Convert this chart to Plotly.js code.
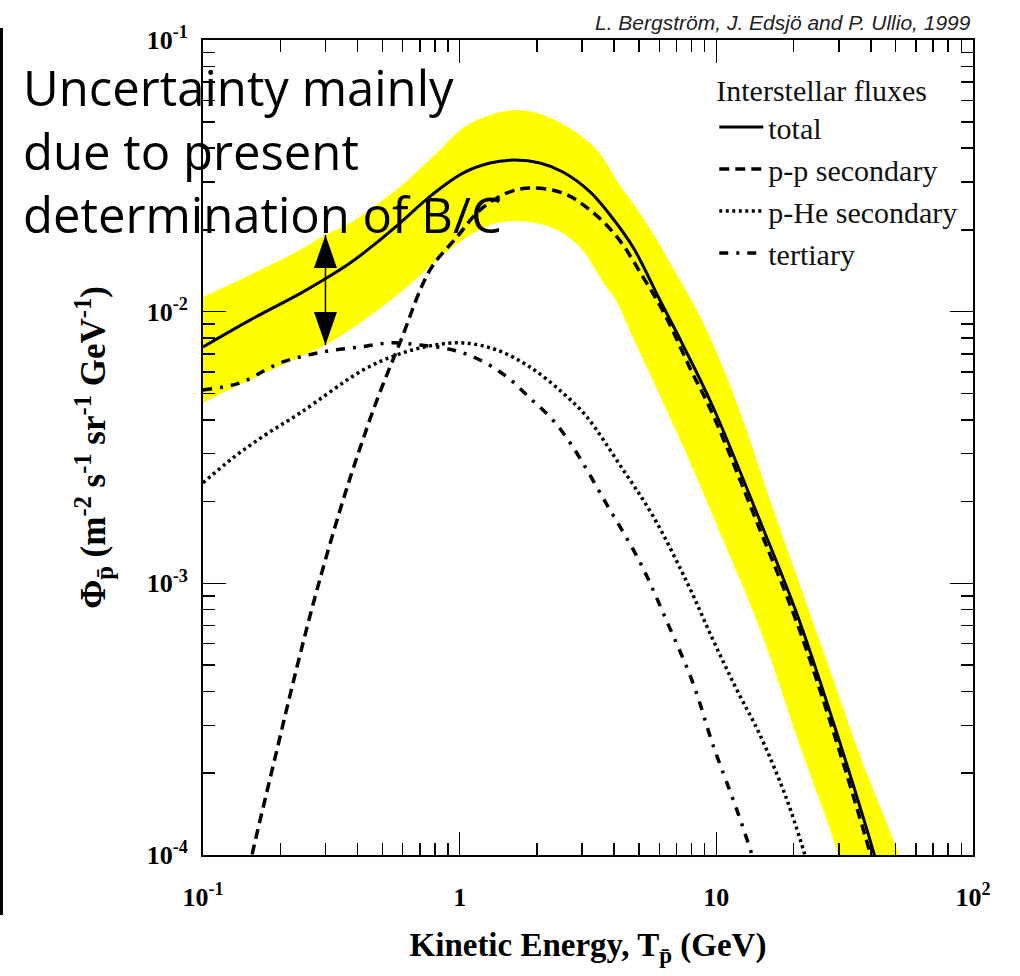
<!DOCTYPE html>
<html>
<head>
<meta charset="utf-8">
<script src="https://cdn.plot.ly/plotly-3.0.1.min.js"></script>
<style>
  html, body { margin: 0; padding: 0; background: #ffffff; }
  #chart { width: 1020px; height: 976px; }
</style>
</head>
<body>
<div id="chart"></div>
<script>
// Interstellar antiproton flux components (Bergström, Edsjö & Ullio 1999)
// Kinetic energy T in GeV, flux in m^-2 s^-1 sr^-1 GeV^-1

const totalT = [0.100, 0.1524, 0.2388, 0.2985, 0.3741, 0.4898, 0.5848, 0.7798, 1.030, 1.312, 1.641, 2.056,
  2.523, 3.221, 3.855, 4.732, 6.026, 7.413, 9.705, 14.79, 20.61, 28.44, 40.74, 43.35];
const totalFlux = [7.413e-3, 9.31e-3, 1.165e-2, 1.318e-2, 1.510e-2, 1.837e-2, 2.118e-2, 2.692e-2, 3.236e-2, 3.524e-2,
  3.614e-2, 3.524e-2, 3.266e-2, 2.761e-2, 2.270e-2, 1.730e-2, 1.104e-2, 7.534e-3, 4.457e-3, 1.698e-3, 7.709e-4,
  3.119e-4, 1.045e-4, 8.45e-5];

const ppT = [0.1510, 0.1552, 0.1941, 0.2323, 0.2780, 0.3420, 0.3981, 0.4764, 0.5848, 0.7656, 0.9761, 1.199, 1.528,
  1.879, 2.523, 3.221, 4.102, 5.176, 6.310, 7.889, 9.705, 14.79, 20.61, 28.44, 39.63, 41.88];
const ppFlux = [8.81e-5, 1.000e-4, 2.438e-4, 4.920e-4, 9.462e-4, 1.862e-3, 2.917e-3, 4.732e-3, 7.674e-3, 1.422e-2,
  1.884e-2, 2.366e-2, 2.735e-2, 2.851e-2, 2.735e-2, 2.366e-2, 1.884e-2, 1.343e-2, 9.727e-3, 6.209e-3, 4.169e-3,
  1.574e-3, 7.145e-4, 2.884e-4, 1.026e-4, 8.45e-5];

const pHeT = [0.100, 0.1309, 0.1746, 0.2388, 0.4198, 0.5702, 0.7656, 1.030, 1.396, 1.879, 2.523, 3.133, 4.207,
  5.662, 7.674, 9.705, 12.02, 14.79, 18.84, 22.13, 22.96];
const pHeFlux = [2.344e-3, 2.897e-3, 3.516e-3, 4.236e-3, 6.095e-3, 6.934e-3, 7.482e-3, 7.674e-3, 7.228e-3, 6.252e-3,
  5.023e-3, 4.093e-3, 2.729e-3, 1.770e-3, 1.012e-3, 6.194e-4, 4.055e-4, 2.767e-4, 1.596e-4, 1.000e-4, 8.81e-5];

const tertT = [0.100, 0.1393, 0.1995, 0.2931, 0.4093, 0.5358, 0.6998, 0.9419, 1.199, 1.528, 1.879, 2.307, 2.761,
  3.750, 5.035, 6.427, 8.110, 9.705, 12.02, 13.77, 14.26];
const tertFlux = [5.152e-3, 5.470e-3, 6.471e-3, 7.112e-3, 7.413e-3, 7.674e-3, 7.534e-3, 7.228e-3, 6.637e-3, 5.754e-3,
  4.808e-3, 3.990e-3, 3.177e-3, 1.945e-3, 1.199e-3, 7.211e-4, 4.295e-4, 2.541e-4, 1.466e-4, 1.000e-4, 8.81e-5];

// Uncertainty band of the total flux (propagation parameters fixed by B/C)
const bandUpperT = [0.100, 0.1524, 0.2388, 0.300, 0.3741, 0.5848, 0.6998, 0.8375, 1.030, 1.312, 1.641, 2.056, 2.761,
  3.428, 4.207, 5.035, 6.026, 7.211, 8.630, 10.33, 12.91, 16.18, 21.18, 27.73, 36.22, 50.58, 56.75];
const bandUpperFlux = [1.132e-2, 1.365e-2, 1.687e-2, 1.914e-2, 2.118e-2, 2.877e-2, 3.350e-2, 3.936e-2, 4.742e-2,
  5.297e-2, 5.521e-2, 5.346e-2, 4.667e-2, 3.936e-2, 2.924e-2, 2.307e-2, 1.758e-2, 1.309e-2, 9.638e-3, 6.637e-3,
  3.828e-3, 2.028e-3, 9.863e-4, 4.797e-4, 2.333e-4, 1.045e-4, 7.430e-5];
const bandLowerT = [0.100, 0.1524, 0.2388, 0.300, 0.3741, 0.5848, 0.8017, 1.030, 1.396, 1.879, 2.393, 2.944, 3.681,
  4.064, 4.688, 5.768, 7.674, 10.62, 14.79, 21.18, 29.51, 31.70];
const bandLowerFlux = [4.613e-3, 5.610e-3, 6.808e-3, 7.534e-3, 8.570e-3, 1.172e-2, 1.524e-2, 1.837e-2, 2.118e-2,
  2.138e-2, 2.000e-2, 1.730e-2, 1.253e-2, 1.104e-2, 8.204e-3, 5.370e-3, 2.972e-3, 1.445e-3, 6.792e-4, 2.523e-4,
  1.045e-4, 8.091e-5];

// Energy at which the band width is marked with a double arrow
const arrowT = 0.3;

const xTickVals = [0.1, 1, 10, 100];
const xTickText = ['10<sup>-1</sup>', '1', '10', '10<sup>2</sup>'];
const yTickVals = [1e-4, 1e-3, 1e-2, 1e-1];
const yTickText = ['10<sup>-4</sup>', '10<sup>-3</sup>', '10<sup>-2</sup>', '10<sup>-1</sup>'];

const legendNames = ['total', 'p-p secondary', 'p-He secondary', 'tertiary'];

// minor ticks at 2..9 within each decade
function decadeMinors(lo, hi) {
  const out = [];
  for (let e = lo; e < hi; e++) {
    for (let m = 2; m <= 9; m++) out.push(m * Math.pow(10, e));
  }
  return out;
}

const serif = 'Liberation Serif, Times New Roman, serif';

const bandTrace = {
  x: bandUpperT.concat(bandLowerT.slice().reverse()),
  y: bandUpperFlux.concat(bandLowerFlux.slice().reverse()),
  mode: 'lines',
  fill: 'toself',
  fillcolor: '#ffff00',
  line: { width: 0, color: '#ffff00', shape: 'spline', smoothing: 1 },
  showlegend: false,
  hoverinfo: 'skip'
};

function curve(x, y, name, dash, width) {
  return {
    x: x, y: y, name: name, legendgroup: name,
    mode: 'lines',
    line: { color: '#000000', width: width, dash: dash, shape: 'spline', smoothing: 1 }
  };
}

const traces = [
  bandTrace,
  curve(totalT, totalFlux, legendNames[0], 'solid', 3),
  curve(ppT, ppFlux, legendNames[1], '10px,6px', 3.5),
  curve(pHeT, pHeFlux, legendNames[2], '3px,3.5px', 3.5),
  curve(tertT, tertFlux, legendNames[3], '9px,8px,3px,8px', 3.5)
];

const iUp = bandUpperT.indexOf(arrowT);
const iLo = bandLowerT.indexOf(arrowT);
const arrowTop = bandUpperFlux[iUp];
const arrowBottom = bandLowerFlux[iLo];

const axisCommon = {
  type: 'log',
  showgrid: false,
  zeroline: false,
  showline: true,
  linecolor: '#000000',
  linewidth: 2,
  mirror: 'allticks',
  ticks: 'inside',
  ticklen: 23,
  tickwidth: 1.5,
  tickcolor: '#000000',
  tickmode: 'array',
  tickfont: { family: serif, size: 26, color: '#000000', weight: 'bold' }
};

const layout = {
  width: 1020,
  height: 976,
  margin: { l: 203, r: 47, t: 40, b: 121 },
  paper_bgcolor: '#ffffff',
  plot_bgcolor: '#ffffff',
  showlegend: true,
  xaxis: Object.assign({}, axisCommon, {
    range: [-1, 2],
    tickvals: xTickVals,
    ticktext: xTickText,
    ticklabelstandoff: 18,
    minor: { tickmode: 'array', tickvals: decadeMinors(-1, 2), ticks: 'inside', ticklen: 12,
             tickwidth: 1.5, tickcolor: '#000000', showgrid: false },
    title: { text: 'Kinetic Energy, T<sub>p̄</sub> (GeV)', standoff: 22,
             font: { family: serif, size: 33, color: '#000000', weight: 'bold' } }
  }),
  yaxis: Object.assign({}, axisCommon, {
    range: [-4, -1],
    tickvals: yTickVals,
    ticktext: yTickText,
    ticklabelstandoff: 8,
    minor: { tickmode: 'array', tickvals: decadeMinors(-4, -1), ticks: 'inside', ticklen: 12,
             tickwidth: 1.5, tickcolor: '#000000', showgrid: false },
    title: { text: 'Φ<sub>p̄</sub> (m<sup>-2</sup> s<sup>-1</sup> sr<sup>-1</sup> GeV<sup>-1</sup>)', standoff: 30,
             font: { family: serif, size: 35, color: '#000000', weight: 'bold' } }
  }),
  legend: {
    x: 0.664, y: 0.973, xanchor: 'left', yanchor: 'top',
    bgcolor: 'rgba(0,0,0,0)',
    borderwidth: 0,
    tracegroupgap: 0,
    itemwidth: 44,
    font: { family: serif, size: 30, color: '#111111' },
    title: { text: 'Interstellar fluxes', font: { family: serif, size: 30, color: '#111111' } }
  },
  annotations: [
    {
      xref: 'paper', yref: 'paper', x: 1, y: 1.021, xanchor: 'right', yanchor: 'middle',
      text: 'L. Bergström, J. Edsjö and P. Ullio, 1999', showarrow: false,
      font: { family: 'Liberation Sans, Arial, sans-serif', size: 21, color: '#222222', style: 'italic' }
    },
    {
      xref: 'paper', yref: 'paper', x: -0.236, y: 0.985, xanchor: 'left', yanchor: 'top', align: 'left',
      text: 'Uncertainty mainly<br>due to present<br>determination of B/C', showarrow: false,
      font: { family: 'Open Sans, Noto Sans, sans-serif', size: 49, color: '#000000' }
    }
  ],
  shapes: [
    // double arrow spanning the band at arrowT
    { type: 'line', xref: 'x', yref: 'y', x0: arrowT, x1: arrowT, y0: arrowBottom, y1: arrowTop,
      line: { color: '#000000', width: 1.5 } },
    { type: 'path', xref: 'x', yref: 'y', xsizemode: 'pixel', ysizemode: 'pixel',
      xanchor: arrowT, yanchor: arrowTop, path: 'M0,0 L-11.5,-33 L11.5,-33 Z',
      fillcolor: '#000000', line: { width: 0 } },
    { type: 'path', xref: 'x', yref: 'y', xsizemode: 'pixel', ysizemode: 'pixel',
      xanchor: arrowT, yanchor: arrowBottom, path: 'M0,0 L-11.5,33 L11.5,33 Z',
      fillcolor: '#000000', line: { width: 0 } },
    // page edge rule on the left
    { type: 'line', xref: 'paper', yref: 'paper', x0: -0.2617, x1: -0.2617, y0: -0.0736, y1: 1.0147,
      line: { color: '#000000', width: 3 } }
  ]
};

Plotly.newPlot('chart', traces, layout, { displayModeBar: false, staticPlot: true });
</script>
</body>
</html>
